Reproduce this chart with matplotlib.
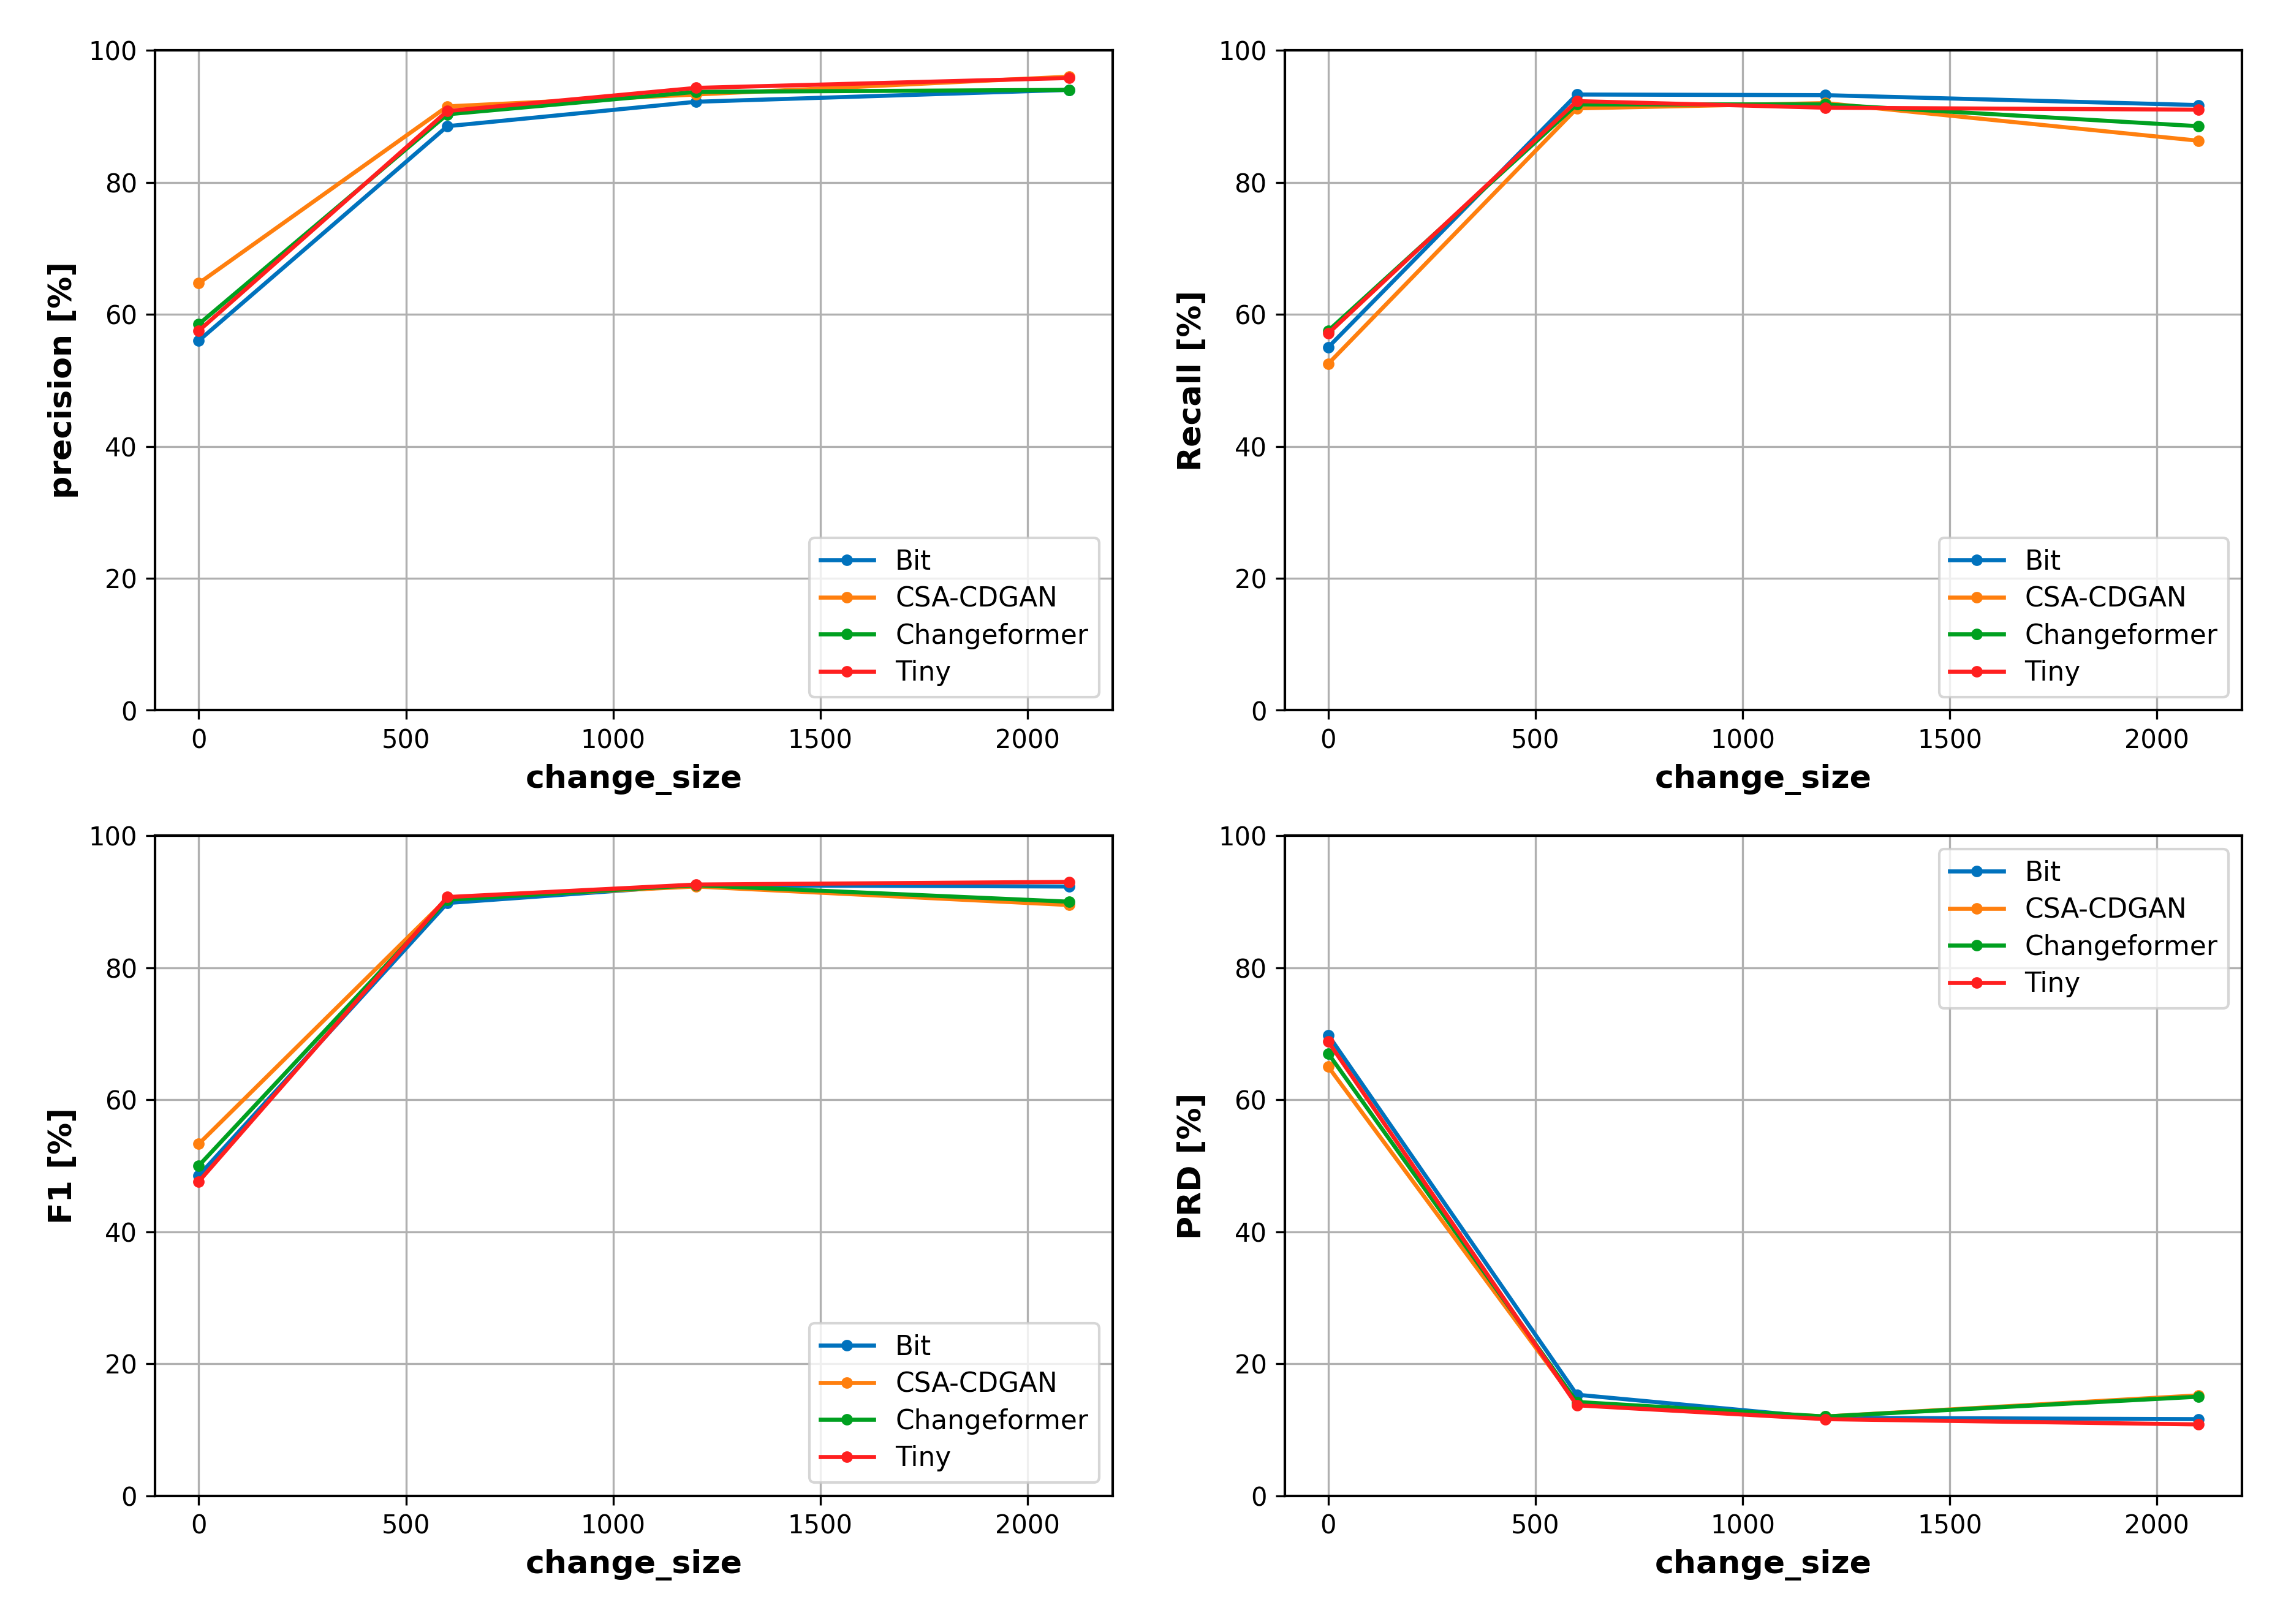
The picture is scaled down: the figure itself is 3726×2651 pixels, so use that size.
import matplotlib
matplotlib.use('Agg')
import matplotlib.pyplot as plt

change_size = [0, 600, 1200, 2100]
models = ['Bit', 'CSA-CDGAN', 'Changeformer', 'Tiny']
colors = ['#0072bd', '#ff7f0e', '#00a020', '#ff1f1f']

precision = {
	'Bit': [56.0, 88.5, 92.2, 94.0],
	'CSA-CDGAN': [64.7, 91.5, 93.3, 96.0],
	'Changeformer': [58.5, 90.3, 93.7, 94.0],
	'Tiny': [57.5, 90.8, 94.3, 95.8],
}
recall = {
	'Bit': [55.0, 93.3, 93.2, 91.7],
	'CSA-CDGAN': [52.5, 91.2, 92.0, 86.3],
	'Changeformer': [57.5, 91.8, 91.8, 88.5],
	'Tiny': [57.1, 92.3, 91.3, 91.0],
}
f1 = {
	'Bit': [48.5, 89.8, 92.5, 92.3],
	'CSA-CDGAN': [53.3, 90.5, 92.3, 89.5],
	'Changeformer': [50.0, 90.3, 92.5, 90.0],
	'Tiny': [47.6, 90.7, 92.6, 93.0],
}
prd = {
	'Bit': [69.8, 15.3, 11.8, 11.6],
	'CSA-CDGAN': [65.0, 14.0, 12.0, 15.2],
	'Changeformer': [67.0, 14.2, 12.0, 15.0],
	'Tiny': [68.8, 13.7, 11.6, 10.8],
}

panels = [
	(precision, 'precision [%]', 'lower right'),
	(recall, 'Recall [%]', 'lower right'),
	(f1, 'F1 [%]', 'lower right'),
	(prd, 'PRD [%]', 'upper right'),
]

fig, axes = plt.subplots(2, 2, figsize=(12.42, 8.837), dpi=300)
plt.subplots_adjust(left=0.068, right=0.982, top=0.969, bottom=0.079,
					wspace=0.18, hspace=0.19)

for ax, (vals, ylabel, loc) in zip(axes.flat, panels):
	for name, c in zip(models, colors):
		ax.plot(change_size, vals[name], c=c, marker='o', markersize=3.5,
				linewidth=1.6, label=name)
	ax.set_ylim(0, 100)
	ax.set_xticks([0, 500, 1000, 1500, 2000])
	ax.grid(True)
	ax.tick_params(labelsize=10)
	ax.set_xlabel('change_size', fontsize=12.5, fontweight='bold')
	ax.set_ylabel(ylabel, fontsize=12.5, fontweight='bold')
	for s in ax.spines.values():
		s.set_linewidth(1.0)
	ax.legend(loc=loc, fontsize=10.5, labelspacing=0.4)

plt.savefig('out.png', dpi=300)
